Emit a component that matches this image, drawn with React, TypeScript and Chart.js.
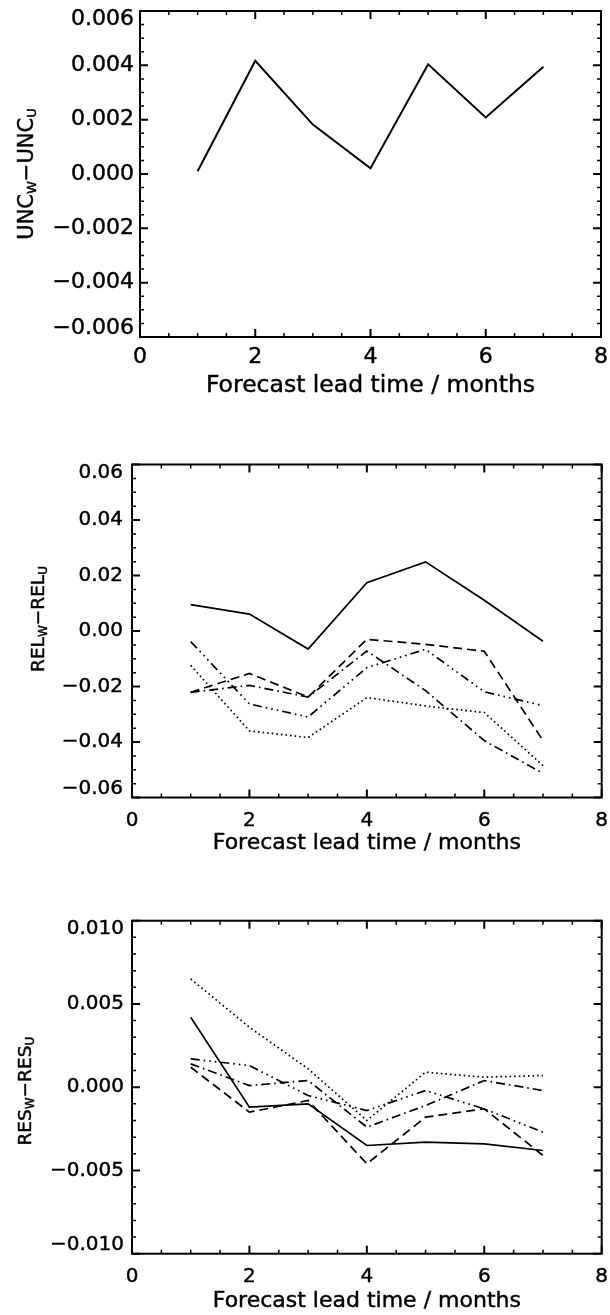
import React, { useEffect, useRef } from 'react';
import { Chart, registerables } from 'chart.js';

Chart.register(...registerables);

// ---------- data ----------
const leadTimes = [1, 2, 3, 4, 5, 6, 7];

const xTickValues = [0, 2, 4, 6, 8];
const xTickLabels = ['0', '2', '4', '6', '8'];
const xTitle = 'Forecast lead time / months';

// Panel 1: UNC_W - UNC_U
const uncSolid = [0.0001, 0.00417, 0.00182, 0.00021, 0.00404, 0.00208, 0.00395];
const uncTickValues = [-0.006, -0.004, -0.002, 0, 0.002, 0.004, 0.006];
const uncTickLabels = ['−0.006', '−0.004', '−0.002', '0.000', '0.002', '0.004', '0.006'];

// Panel 2: REL_W - REL_U
const relSolid = [0.0095, 0.0061, -0.0065, 0.0174, 0.0249, 0.0111, -0.0037];
const relDashed = [-0.0221, -0.0153, -0.0238, -0.003, -0.0048, -0.0073, -0.0395];
const relDashDot = [-0.0221, -0.0196, -0.0238, -0.0072, -0.0215, -0.0395, -0.0513];
const relDash3Dot = [-0.0038, -0.0263, -0.031, -0.0132, -0.0066, -0.0219, -0.0269];
const relDotted = [-0.0124, -0.036, -0.0384, -0.024, -0.027, -0.0294, -0.0485];
const relTickValues = [-0.06, -0.04, -0.02, 0, 0.02, 0.04, 0.06];
const relTickLabels = ['−0.06', '−0.04', '−0.02', '0.00', '0.02', '0.04', '0.06'];

// Panel 3: RES_W - RES_U
const resSolid = [0.0042, -0.0012, -0.001, -0.0035, -0.0033, -0.0034, -0.0038];
const resDotted = [0.0065, 0.0036, 0.0011, -0.002, 0.0009, 0.0006, 0.0007];
const resDashed = [0.0012, -0.0015, -0.0008, -0.0046, -0.0018, -0.0013, -0.0041];
const resDashDot = [0.0014, 0.0001, 0.0004, -0.0024, -0.0011, 0.0004, -0.0002];
const resDash3Dot = [0.0017, 0.0013, -0.0005, -0.0014, -0.0002, -0.0013, -0.0027];
const resTickValues = [-0.01, -0.005, 0, 0.005, 0.01];
const resTickLabels = ['−0.010', '−0.005', '0.000', '0.005', '0.010'];

// ---------- styles ----------
const DASH = {
  solid: [] as number[],
  dotted: [1.6, 3],
  dashed: [9, 5],
  dashDot: [9, 4, 1.6, 4],
  dash3Dot: [9, 4, 1.6, 4, 1.6, 4, 1.6, 4],
};

const FONT = '"DejaVu Sans", "Liberation Sans", sans-serif';

type TitlePart = { t: string; sub?: boolean };

function drawText(ctx: CanvasRenderingContext2D, t: string, x: number, y: number) {
  ctx.fillText(t, x, y);
  ctx.strokeText(t, x, y);
}

const idlAxes = {
  id: 'idlAxes',
  afterDatasetsDraw(chart: any, _args: any, o: any) {
    const ctx: CanvasRenderingContext2D = chart.ctx;
    const { left, right, top, bottom } = chart.chartArea;
    const xs = chart.scales.x;
    const ys = chart.scales.y;
    ctx.save();
    ctx.strokeStyle = '#000';
    ctx.fillStyle = '#000';
    ctx.lineCap = 'butt';
    ctx.setLineDash([]);

    const isMajor = (v: number, majors: number[]) => majors.some((m) => Math.abs(m - v) < 1e-9);

    // minor ticks
    ctx.lineWidth = 1.5;
    ctx.beginPath();
    const nx = Math.round((xs.max - xs.min) / o.xMinor);
    for (let i = 0; i <= nx; i++) {
      const v = xs.min + i * o.xMinor;
      if (isMajor(v, o.xMajor)) continue;
      const p = xs.getPixelForValue(v);
      ctx.moveTo(p, bottom); ctx.lineTo(p, bottom - o.minorLen);
      ctx.moveTo(p, top); ctx.lineTo(p, top + o.minorLen);
    }
    const ny = Math.round((ys.max - ys.min) / o.yMinor);
    for (let i = 0; i <= ny; i++) {
      const v = ys.min + i * o.yMinor;
      if (isMajor(v, o.yMajor)) continue;
      const p = ys.getPixelForValue(v);
      ctx.moveTo(left, p); ctx.lineTo(left + o.minorLen, p);
      ctx.moveTo(right, p); ctx.lineTo(right - o.minorLen, p);
    }
    ctx.stroke();

    // major ticks
    ctx.lineWidth = 2;
    ctx.beginPath();
    o.xMajor.forEach((v: number) => {
      const p = xs.getPixelForValue(v);
      ctx.moveTo(p, bottom); ctx.lineTo(p, bottom - o.majorLen);
      ctx.moveTo(p, top); ctx.lineTo(p, top + o.majorLen);
    });
    o.yMajor.forEach((v: number) => {
      const p = ys.getPixelForValue(v);
      ctx.moveTo(left, p); ctx.lineTo(left + o.majorLen, p);
      ctx.moveTo(right, p); ctx.lineTo(right - o.majorLen, p);
    });
    ctx.stroke();

    // frame
    ctx.lineWidth = 2;
    ctx.strokeRect(left, top, right - left, bottom - top);

    // text (slightly emboldened)
    ctx.lineWidth = 0.45;
    ctx.lineJoin = 'round';

    // x tick labels
    ctx.font = `${o.tickSize}px ${FONT}`;
    ctx.textAlign = 'center';
    ctx.textBaseline = 'middle';
    o.xMajor.forEach((v: number, i: number) => {
      drawText(ctx, o.xLabels[i], xs.getPixelForValue(v), bottom + o.xLabelGap);
    });

    // y tick labels
    ctx.textAlign = 'right';
    o.yMajor.forEach((v: number, i: number) => {
      let p = ys.getPixelForValue(v);
      if (Math.abs(v - ys.max) < 1e-12) p = top + o.edgeShift;
      if (Math.abs(v - ys.min) < 1e-12) p = bottom - o.edgeShift;
      drawText(ctx, o.yLabels[i], left - o.yLabelGap, p);
    });

    // x title
    ctx.font = `${o.xTitleSize}px ${FONT}`;
    ctx.textAlign = 'center';
    drawText(ctx, o.xTitle, (left + right) / 2, bottom + o.xTitleGap);

    // y title (rotated, with subscripts)
    const parts: TitlePart[] = o.yTitle;
    const mainFont = `${o.yTitleSize}px ${FONT}`;
    const subFont = `${o.yTitleSubSize}px ${FONT}`;
    let total = 0;
    const widths = parts.map((pt) => {
      ctx.font = pt.sub ? subFont : mainFont;
      const w = ctx.measureText(pt.t).width;
      total += w;
      return w;
    });
    ctx.translate(o.yTitleBaselineX, (top + bottom) / 2 + o.yTitleShift);
    ctx.rotate(-Math.PI / 2);
    ctx.textAlign = 'left';
    ctx.textBaseline = 'alphabetic';
    let x = -total / 2;
    parts.forEach((pt, i) => {
      ctx.font = pt.sub ? subFont : mainFont;
      drawText(ctx, pt.t, x, pt.sub ? 3 : 0);
      x += widths[i];
    });
    ctx.restore();
  },
};

type Series = { values: number[]; dash: number[] };

type PanelSpec = {
  canvasTop: number;
  canvasH: number;
  L: number;
  R: number;
  T: number;
  B: number;
  yMin: number;
  yMax: number;
  yMajor: number[];
  yLabels: string[];
  yMinor: number;
  yTitle: TitlePart[];
  yTitleBaselineX: number;
  yTitleShift: number;
  yTitleSize: number;
  yTitleSubSize: number;
  tickSize: number;
  xTitleSize: number;
  yLabelGap: number;
  xLabelGap: number;
  xTitleGap: number;
  lineWidth: number;
  series: Series[];
};

const PAGE_W = 610;

const panels: PanelSpec[] = [
  {
    canvasTop: 0, canvasH: 420, L: 140, R: 601, T: 11, B: 337,
    yMin: -0.006, yMax: 0.006, yMajor: uncTickValues, yLabels: uncTickLabels, yMinor: 0.0005,
    yTitle: [{ t: 'UNC' }, { t: 'W', sub: true }, { t: '−UNC' }, { t: 'U', sub: true }],
    yTitleBaselineX: 33, yTitleShift: 0, yTitleSize: 21, yTitleSubSize: 13,
    tickSize: 22, xTitleSize: 23.5, yLabelGap: 6,
    xLabelGap: 20, xTitleGap: 49, lineWidth: 2,
    series: [{ values: uncSolid, dash: DASH.solid }],
  },
  {
    canvasTop: 420, canvasH: 440, L: 132, R: 601.7, T: 464.5, B: 797.5,
    yMin: -0.06, yMax: 0.06, yMajor: relTickValues, yLabels: relTickLabels, yMinor: 0.005,
    yTitle: [{ t: 'REL' }, { t: 'W', sub: true }, { t: '−REL' }, { t: 'U', sub: true }],
    yTitleBaselineX: 44, yTitleShift: -12, yTitleSize: 18.5, yTitleSubSize: 12,
    tickSize: 20, xTitleSize: 22, yLabelGap: 9,
    xLabelGap: 23, xTitleGap: 46, lineWidth: 1.7,
    series: [
      { values: relSolid, dash: DASH.solid },
      { values: relDotted, dash: DASH.dotted },
      { values: relDashed, dash: DASH.dashed },
      { values: relDashDot, dash: DASH.dashDot },
      { values: relDash3Dot, dash: DASH.dash3Dot },
    ],
  },
  {
    canvasTop: 860, canvasH: 455, L: 132, R: 601.7, T: 920.7, B: 1253.7,
    yMin: -0.01, yMax: 0.01, yMajor: resTickValues, yLabels: resTickLabels, yMinor: 0.001,
    yTitle: [{ t: 'RES' }, { t: 'W', sub: true }, { t: '−RES' }, { t: 'U', sub: true }],
    yTitleBaselineX: 31, yTitleShift: 4, yTitleSize: 18.5, yTitleSubSize: 12,
    tickSize: 20, xTitleSize: 22, yLabelGap: 8,
    xLabelGap: 23, xTitleGap: 48, lineWidth: 1.7,
    series: [
      { values: resSolid, dash: DASH.solid },
      { values: resDotted, dash: DASH.dotted },
      { values: resDashed, dash: DASH.dashed },
      { values: resDashDot, dash: DASH.dashDot },
      { values: resDash3Dot, dash: DASH.dash3Dot },
    ],
  },
];

function Panel({ spec }: { spec: PanelSpec }) {
  const ref = useRef<HTMLCanvasElement | null>(null);
  useEffect(() => {
    if (!ref.current) return;
    const s = spec;
    const chart = new Chart(ref.current, {
      type: 'line',
      data: {
        datasets: s.series.map((se) => ({
          data: leadTimes.map((x, i) => ({ x, y: se.values[i] })),
          borderColor: '#000',
          borderWidth: s.lineWidth,
          borderDash: se.dash,
          borderCapStyle: 'butt',
          pointRadius: 0,
          fill: false,
          tension: 0,
        })),
      },
      options: {
        animation: false,
        responsive: false,
        devicePixelRatio: 1,
        events: [],
        layout: {
          autoPadding: false,
          padding: { top: s.T - s.canvasTop, right: PAGE_W - s.R, left: 0, bottom: 0 },
        },
        plugins: {
          legend: { display: false },
          tooltip: { enabled: false },
          title: { display: false },
          idlAxes: {
            xMajor: xTickValues,
            xLabels: xTickLabels,
            xMinor: 0.5,
            yMajor: s.yMajor,
            yLabels: s.yLabels,
            yMinor: s.yMinor,
            majorLen: 8,
            minorLen: 4,
            tickSize: s.tickSize,
            xTitleSize: s.xTitleSize,
            xLabelGap: s.xLabelGap,
            xTitleGap: s.xTitleGap,
            yLabelGap: s.yLabelGap,
            edgeShift: 8.5,
            xTitle,
            yTitle: s.yTitle,
            yTitleSize: s.yTitleSize,
            yTitleSubSize: s.yTitleSubSize,
            yTitleBaselineX: s.yTitleBaselineX,
            yTitleShift: s.yTitleShift,
          },
        } as any,
        scales: {
          x: {
            type: 'linear',
            min: 0,
            max: 8,
            grid: { display: false },
            border: { display: false },
            ticks: { display: false },
            afterFit: (sc: any) => { sc.height = s.canvasH - (s.B - s.canvasTop); },
          },
          y: {
            type: 'linear',
            min: s.yMin,
            max: s.yMax,
            grid: { display: false },
            border: { display: false },
            ticks: { display: false },
            afterFit: (sc: any) => { sc.width = s.L; },
          },
        },
      } as any,
      plugins: [idlAxes as any],
    });
    return () => chart.destroy();
  }, [spec]);
  return (
    <canvas
      ref={ref}
      width={PAGE_W}
      height={spec.canvasH}
      style={{ position: 'absolute', left: 0, top: spec.canvasTop, width: PAGE_W, height: spec.canvasH }}
    />
  );
}

export default function App() {
  return (
    <div style={{ position: 'absolute', left: 0, top: 0, width: PAGE_W, height: 1315, background: '#fff' }}>
      {panels.map((p, i) => (
        <Panel key={i} spec={p} />
      ))}
    </div>
  );
}
